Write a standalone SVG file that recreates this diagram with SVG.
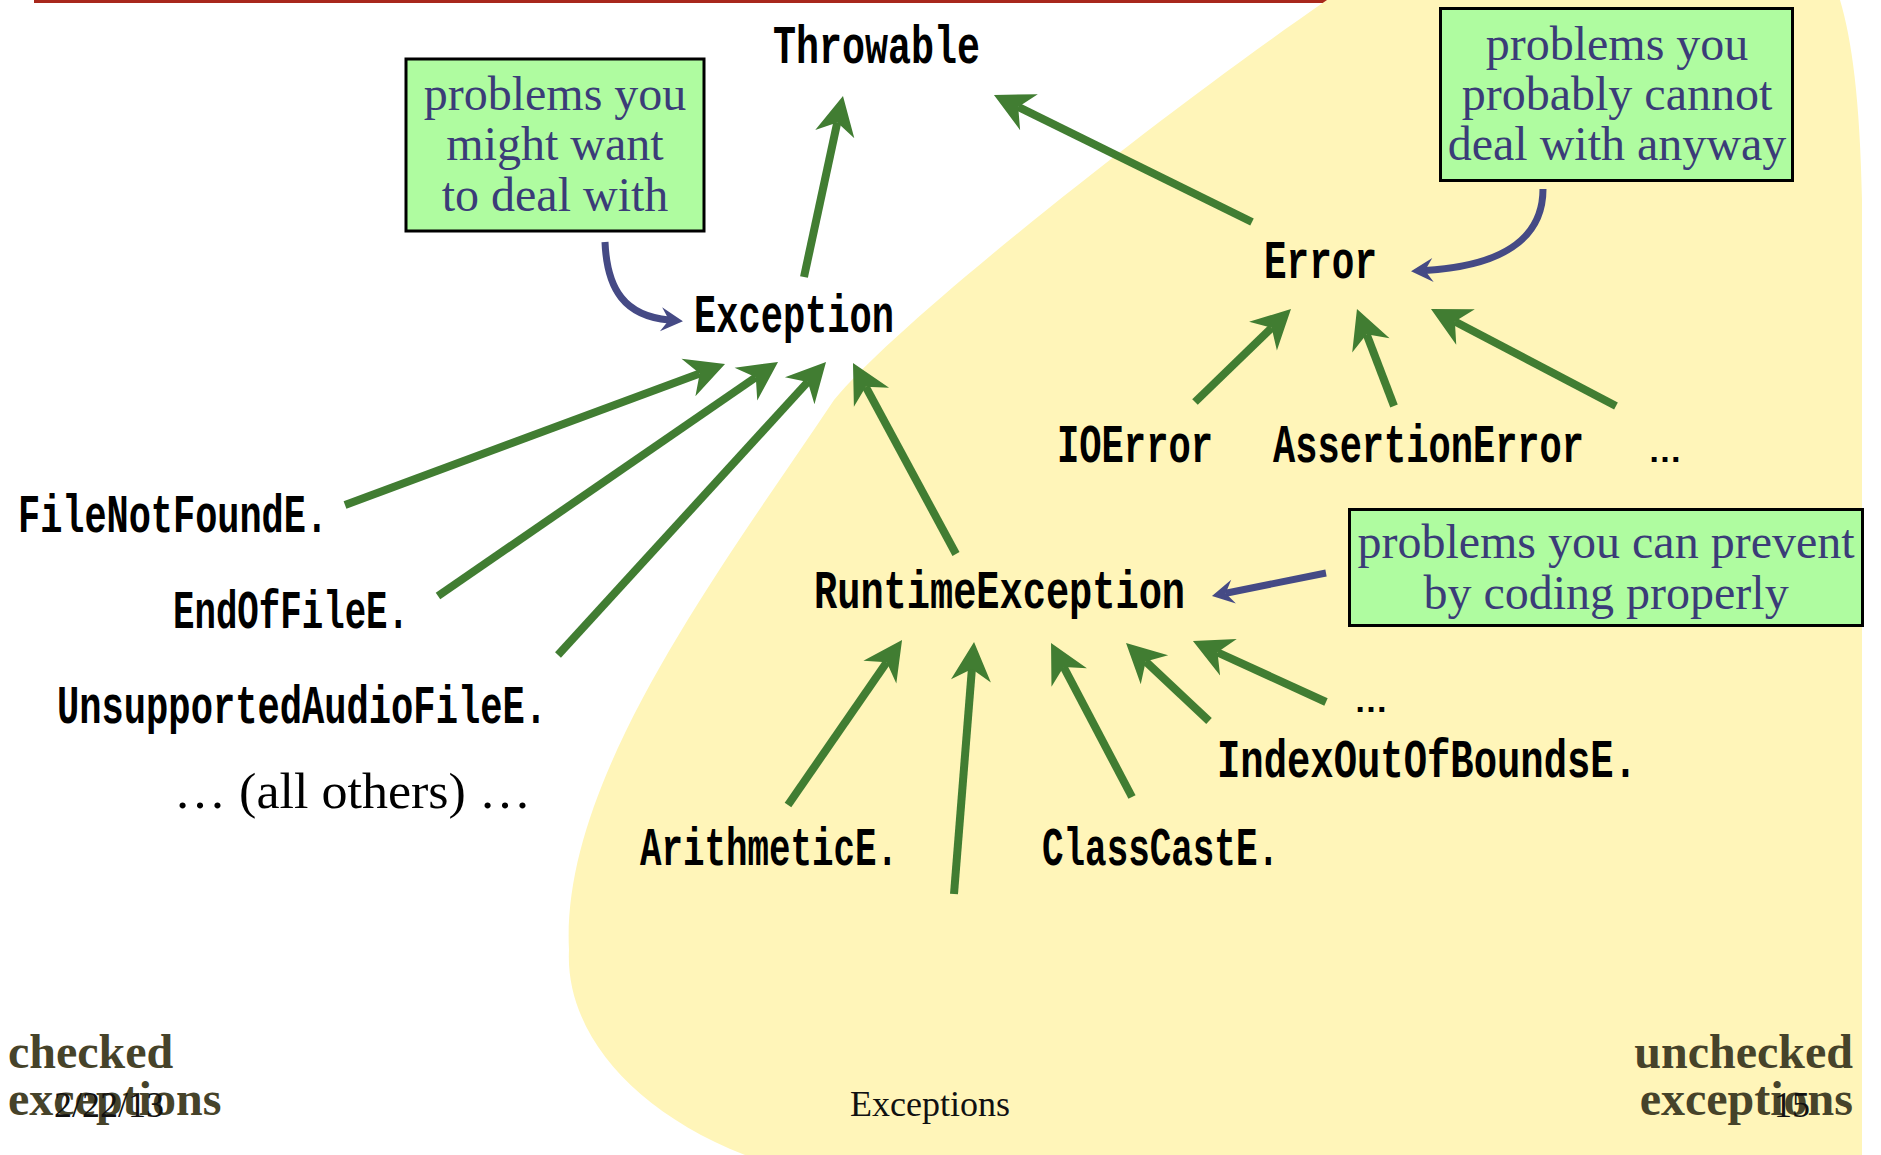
<svg xmlns="http://www.w3.org/2000/svg" width="1881" height="1155" viewBox="0 0 1881 1155">
<defs>
<style>
.mono{font-family:"Liberation Mono","DejaVu Sans Mono",monospace;font-weight:bold;font-size:54px;fill:#000}
.note{font-family:"Liberation Serif","Times New Roman",serif;font-size:48px;fill:#3b3c78;text-anchor:middle}
.box{fill:#affca0;stroke:#000;stroke-width:3}
.side{font-family:"Liberation Serif","Times New Roman",serif;font-size:48px;font-weight:bold;fill:#46432a}
.foot{font-family:"Liberation Serif","Times New Roman",serif;font-size:36px;fill:#111}
.dots{font-family:"Liberation Sans",Arial,sans-serif;font-weight:bold;font-size:34px;fill:#000}
.g{stroke:#417d32;stroke-width:8;fill:none;marker-end:url(#gh)}
.b{stroke:#454a85;stroke-width:7;fill:none;marker-end:url(#bh)}
</style>
<marker id="gh" markerUnits="userSpaceOnUse" markerWidth="60" markerHeight="60" refX="0" refY="0" viewBox="-20 -30 60 60" orient="auto" overflow="visible">
<path d="M27,0 L-12,-20 L0,0 L-12,20 Z" fill="#417d32"/>
</marker>
<marker id="bh" markerUnits="userSpaceOnUse" markerWidth="40" markerHeight="40" refX="0" refY="0" viewBox="-20 -20 40 40" orient="auto" overflow="visible">
<path d="M14,0 L-8,-12 L0,0 L-8,12 Z" fill="#454a85"/>
</marker>
</defs>
<rect width="1881" height="1155" fill="#fff"/>
<rect x="34" y="0" width="1300" height="3" fill="#a8281c"/>
<path id="unchecked-region" d="M1327,0 L1840,0 C1852,40 1860,100 1862,200 L1862,1155 L745,1155 C630,1110 565,1030 569,950 C560,780 720,570 834,400 C900,320 1160,115 1327,0 Z" fill="#fff5b9"/>

<g id="connectors">
<line class="g" x1="804" y1="277" x2="837.3" y2="122.4"/>
<line class="g" x1="1252" y1="222" x2="1018.2" y2="106.9"/>
<line class="g" x1="1195" y1="402" x2="1271.6" y2="327.8"/>
<line class="g" x1="1394" y1="406" x2="1366.6" y2="334.2"/>
<line class="g" x1="1616" y1="406" x2="1454.9" y2="321.5"/>
<line class="g" x1="345" y1="505" x2="699.7" y2="373.4"/>
<line class="g" x1="438" y1="596" x2="755.8" y2="377.3"/>
<line class="g" x1="558" y1="655" x2="807.8" y2="381.9"/>
<line class="g" x1="956" y1="554" x2="865.8" y2="386.8"/>
<line class="g" x1="788" y1="805" x2="886.7" y2="662.2"/>
<line class="g" x1="954" y1="894" x2="971.9" y2="668.9"/>
<line class="g" x1="1132" y1="797" x2="1063.6" y2="666.9"/>
<line class="g" x1="1209" y1="721" x2="1145.7" y2="661.5"/>
<line class="g" x1="1326" y1="702" x2="1217.5" y2="652.3"/>
<path class="b" d="M605,242 C607,290 625,316 669,320"/>
<path class="b" d="M1543,189 C1543,240 1500,266 1425,270.5"/>
<line class="b" x1="1326" y1="573" x2="1225.7" y2="593.2"/>
</g>

<g id="note-checked">
<rect class="box" x="406" y="59" width="298" height="172"/>
<text class="note" x="555" y="110">problems you</text>
<text class="note" x="555" y="160">might want</text>
<text class="note" x="555" y="211">to deal with</text>
</g>
<g id="note-error">
<rect class="box" x="1440.5" y="8.5" width="352" height="172"/>
<text class="note" x="1617" y="60">problems you</text>
<text class="note" x="1617" y="110">probably cannot</text>
<text class="note" x="1617" y="160">deal with anyway</text>
</g>
<g id="note-runtime">
<rect class="box" x="1349.5" y="509.5" width="513" height="116"/>
<text class="note" x="1606" y="558">problems you can prevent</text>
<text class="note" x="1606" y="609">by coding properly</text>
</g>

<g id="throwable"><text class="mono" x="773" y="63" textLength="207" lengthAdjust="spacingAndGlyphs">Throwable</text></g>
<g id="exception"><text class="mono" x="694" y="332" textLength="200" lengthAdjust="spacingAndGlyphs">Exception</text></g>
<g id="error"><text class="mono" x="1264" y="278" textLength="113" lengthAdjust="spacingAndGlyphs">Error</text></g>
<g id="ioerror"><text class="mono" x="1057" y="462" textLength="156" lengthAdjust="spacingAndGlyphs">IOError</text></g>
<g id="assertionerror"><text class="mono" x="1273" y="462" textLength="311" lengthAdjust="spacingAndGlyphs">AssertionError</text></g>
<g id="error-more"><text class="dots" x="1648" y="462">…</text></g>
<g id="runtimeexception"><text class="mono" x="814" y="608" textLength="371" lengthAdjust="spacingAndGlyphs">RuntimeException</text></g>
<g id="filenotfound"><text class="mono" x="18" y="532" textLength="310" lengthAdjust="spacingAndGlyphs">FileNotFoundE.</text></g>
<g id="endoffile"><text class="mono" x="173" y="628" textLength="236" lengthAdjust="spacingAndGlyphs">EndOfFileE.</text></g>
<g id="unsupportedaudiofile"><text class="mono" x="57" y="723" textLength="490" lengthAdjust="spacingAndGlyphs">UnsupportedAudioFileE.</text></g>
<g id="all-others"><text x="174" y="808" font-family="Liberation Serif, Times New Roman, serif" font-size="50" textLength="357" lengthAdjust="spacingAndGlyphs">… (all others) …</text></g>
<g id="arithmetic"><text class="mono" x="640" y="865" textLength="258" lengthAdjust="spacingAndGlyphs">ArithmeticE.</text></g>
<g id="classcast"><text class="mono" x="1042" y="865" textLength="237" lengthAdjust="spacingAndGlyphs">ClassCastE.</text></g>
<g id="indexoutofbounds"><text class="mono" x="1217" y="777" textLength="420" lengthAdjust="spacingAndGlyphs">IndexOutOfBoundsE.</text></g>
<g id="runtime-more"><text class="dots" x="1354" y="712">…</text></g>

<g id="labels">
<text class="side" x="8" y="1068">checked</text>
<text class="side" x="8" y="1115">exceptions</text>
<text class="side" x="1853" y="1068" text-anchor="end">unchecked</text>
<text class="side" x="1853" y="1115" text-anchor="end">exceptions</text>
<text class="foot" x="54" y="1117">2/22/13</text>
<text class="foot" x="930" y="1116" text-anchor="middle">Exceptions</text>
<text class="foot" x="1774" y="1117">15</text>
</g>
</svg>
